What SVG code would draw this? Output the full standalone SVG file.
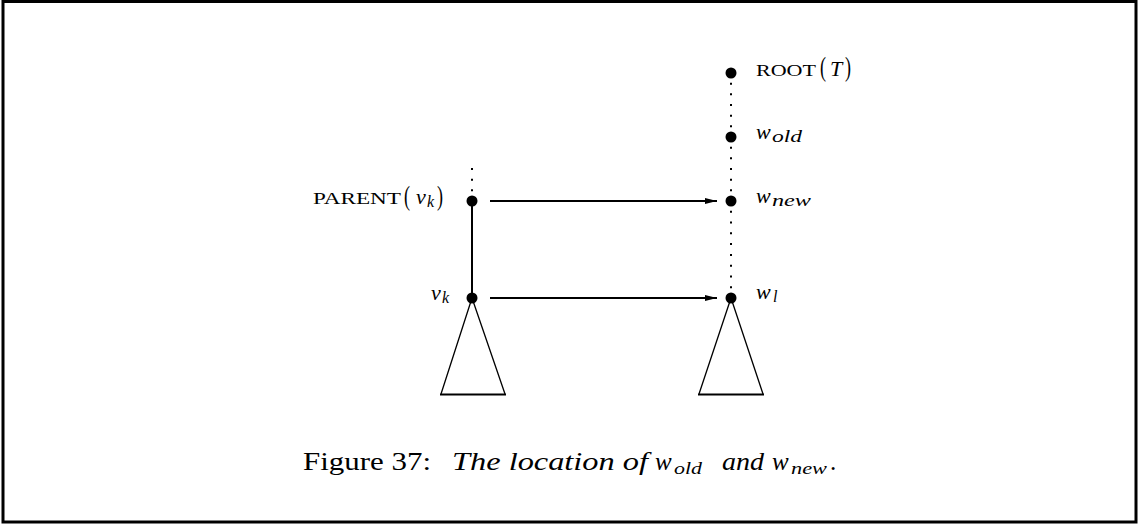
<svg xmlns="http://www.w3.org/2000/svg" width="1138" height="524" viewBox="0 0 1138 524">
<style>
.t{font-family:"Liberation Serif","DejaVu Serif",serif;fill:#000}
.i{font-style:italic}
.m{font-size:22px}
.s{font-size:16px}
.sc{font-size:16px}
.p{font-size:28px}
.cap{font-size:25px}
.capsub{font-size:17px}
.ln{stroke:#000;stroke-width:2;fill:none}
.dot{stroke:#000;stroke-width:2;fill:none;stroke-dashoffset:1}
.tri{stroke:#000;stroke-width:1.3;fill:none}
.base{stroke:#000;stroke-width:2}
</style>
<defs>
<marker id="ah" markerWidth="12" markerHeight="8" refX="12" refY="4" orient="auto" markerUnits="userSpaceOnUse">
<path d="M0,1 L12,4 L0,7 Z" fill="#000"/>
</marker>
</defs>
<rect x="3" y="1.5" width="1133" height="520.5" fill="#fff" stroke="#000" stroke-width="3"/>
<g id="connectors">
<path class="dot" d="M731,73 V137" stroke-dasharray="2 8.67"/>
<path class="dot" d="M731,137 V201" stroke-dasharray="2 8.67"/>
<path class="dot" d="M731,201 V298" stroke-dasharray="2 8.78"/>
<path class="dot" d="M472,201 V160" stroke-dasharray="2 8.67"/>
<path class="ln" d="M472,201 V298"/>
<path class="ln" d="M490,201 H717" marker-end="url(#ah)"/>
<path class="ln" d="M490,298 H717" marker-end="url(#ah)"/>
</g>
<g id="root">
<circle cx="731" cy="73" r="5.5"/>
<text class="t sc" x="756" y="76" textLength="60" lengthAdjust="spacingAndGlyphs">ROOT</text>
<text class="t p" x="820" y="76" textLength="6" lengthAdjust="spacingAndGlyphs">(</text>
<text class="t i" x="830" y="76" font-size="22">T</text>
<text class="t p" x="845" y="76" textLength="6" lengthAdjust="spacingAndGlyphs">)</text>
</g>
<g id="wold">
<circle cx="731" cy="137" r="5.5"/>
<text class="t i m" x="756" y="139">w</text>
<text class="t i s" x="772" y="142" textLength="30" lengthAdjust="spacingAndGlyphs">old</text>
</g>
<g id="wnew">
<circle cx="731" cy="201" r="5.5"/>
<text class="t i m" x="756" y="203">w</text>
<text class="t i s" x="772" y="206" textLength="39" lengthAdjust="spacingAndGlyphs">new</text>
</g>
<g id="wl">
<circle cx="731" cy="298" r="5.5"/>
<path class="tri" d="M731,298 L699,394 M731,298 L763,394"/>
<path class="base" d="M698,394.5 H764"/>
<text class="t i m" x="756" y="299">w</text>
<text class="t i s" x="773" y="302">l</text>
</g>
<g id="parent">
<circle cx="472" cy="201" r="5.5"/>
<text class="t sc" x="313" y="204" textLength="88" lengthAdjust="spacingAndGlyphs">PARENT</text>
<text class="t p" x="404" y="205" textLength="6" lengthAdjust="spacingAndGlyphs">(</text>
<text class="t i m" x="416" y="204">v</text>
<text class="t i s" x="427" y="207">k</text>
<text class="t p" x="437" y="205" textLength="6" lengthAdjust="spacingAndGlyphs">)</text>
</g>
<g id="vk">
<circle cx="472" cy="298" r="5.5"/>
<path class="tri" d="M472,298 L441,394 M472,298 L505,394"/>
<path class="base" d="M440,394.5 H506"/>
<text class="t i m" x="431" y="300">v</text>
<text class="t i s" x="442" y="303">k</text>
</g>
<g id="caption">
<text class="t cap" x="303" y="470" textLength="128" lengthAdjust="spacingAndGlyphs">Figure 37:</text>
<text class="t cap i" x="452" y="470" textLength="196" lengthAdjust="spacingAndGlyphs">The location of</text>
<text class="t cap i" x="655" y="470">w</text>
<text class="t capsub i" x="674" y="474" textLength="28" lengthAdjust="spacingAndGlyphs">old</text>
<text class="t cap i" x="722" y="470" textLength="42" lengthAdjust="spacingAndGlyphs">and</text>
<text class="t cap i" x="772" y="470">w</text>
<text class="t capsub i" x="791" y="474" textLength="36" lengthAdjust="spacingAndGlyphs">new</text>
<text class="t cap" x="830" y="470">.</text>
</g>
</svg>
